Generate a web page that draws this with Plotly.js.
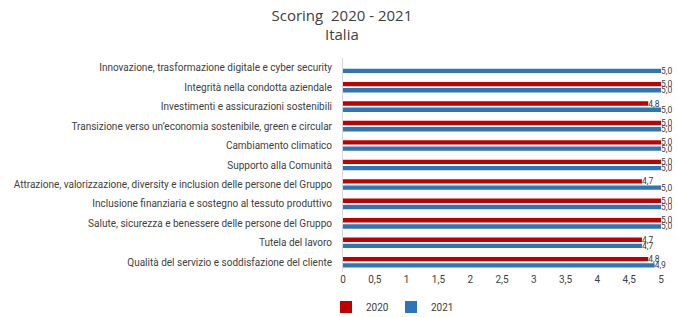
<!DOCTYPE html>
<html><head><meta charset="utf-8">
<script src="https://cdn.plot.ly/plotly-3.0.1.min.js"></script>
<style>body{margin:0;padding:0;background:#fff}#c{width:677px;height:317px}</style>
</head><body><div id="c"></div>
<script>
const categories = [
  "Innovazione, trasformazione digitale e cyber security",
  "Integrità nella condotta aziendale",
  "Investimenti e assicurazioni sostenibili",
  "Transizione verso un’economia sostenibile, green e circular",
  "Cambiamento climatico",
  "Supporto alla Comunità",
  "Attrazione, valorizzazione, diversity e inclusion delle persone del Gruppo",
  "Inclusione finanziaria e sostegno al tessuto produttivo",
  "Salute, sicurezza e benessere delle persone del Gruppo",
  "Tutela del lavoro",
  "Qualità del servizio e soddisfazione del cliente"
];
const values2020 = [null, 5.0, 4.8, 5.0, 5.0, 5.0, 4.7, 5.0, 5.0, 4.7, 4.8];
const values2021 = [5.0, 5.0, 5.0, 5.0, 5.0, 5.0, 5.0, 5.0, 5.0, 4.7, 4.9];
const tickVals = [0, 0.5, 1, 1.5, 2, 2.5, 3, 3.5, 4, 4.5, 5];

const fontFam = "Roboto, 'Liberation Sans', sans-serif";
const textStyle = {size: 8.5, color: '#404040', family: fontFam};

const traces = [
  {type: 'bar', orientation: 'h', name: '2020', y: categories, x: values2020,
   marker: {color: '#C00000'}, texttemplate: '%{x:.1f}', textposition: 'outside',
   constraintext: 'none', textfont: textStyle, cliponaxis: false},
  {type: 'bar', orientation: 'h', name: '2021', y: categories, x: values2021,
   marker: {color: '#2E75B6'}, texttemplate: '%{x:.1f}', textposition: 'outside',
   constraintext: 'none', textfont: textStyle, cliponaxis: false}
];

const layout = {
  width: 677, height: 317,
  margin: {l: 343, r: 16, t: 58, b: 45, autoexpand: false},
  paper_bgcolor: '#fff', plot_bgcolor: '#fff',
  separators: ',.',
  font: {family: fontFam, color: '#404040', size: 10},
  title: {text: 'Scoring  2020 - 2021<br>Italia', xref: 'container', x: 0.505, xanchor: 'center',
          yref: 'container', y: 0.935, yanchor: 'top',
          font: {size: 15, color: '#404040', family: "'Open Sans', sans-serif"}},
  barmode: 'group', bargap: 0.36, bargroupgap: 0.3,
  xaxis: {range: [0, 5], tickvals: tickVals, showgrid: false, zeroline: false,
          showline: false, ticks: '', tickfont: {size: 10, color: '#404040'}},
  yaxis: {autorange: 'reversed', type: 'category', showgrid: false, zeroline: false,
          showline: true, linecolor: '#d9d9d9', ticks: '', ticklabelstandoff: 8,
          tickfont: {size: 10, color: '#404040'}},
  legend: {orientation: 'h', x: 326/677, xref: 'container', xanchor: 'left',
           yref: 'container', y: 10/317, yanchor: 'middle',
           font: {size: 10, color: '#404040'}, traceorder: 'normal',
           itemwidth: 30, entrywidth: 20, itemsizing: 'constant'},
  showlegend: true
};
Plotly.newPlot('c', traces, layout, {displayModeBar: false, staticPlot: true});
</script></body></html>
